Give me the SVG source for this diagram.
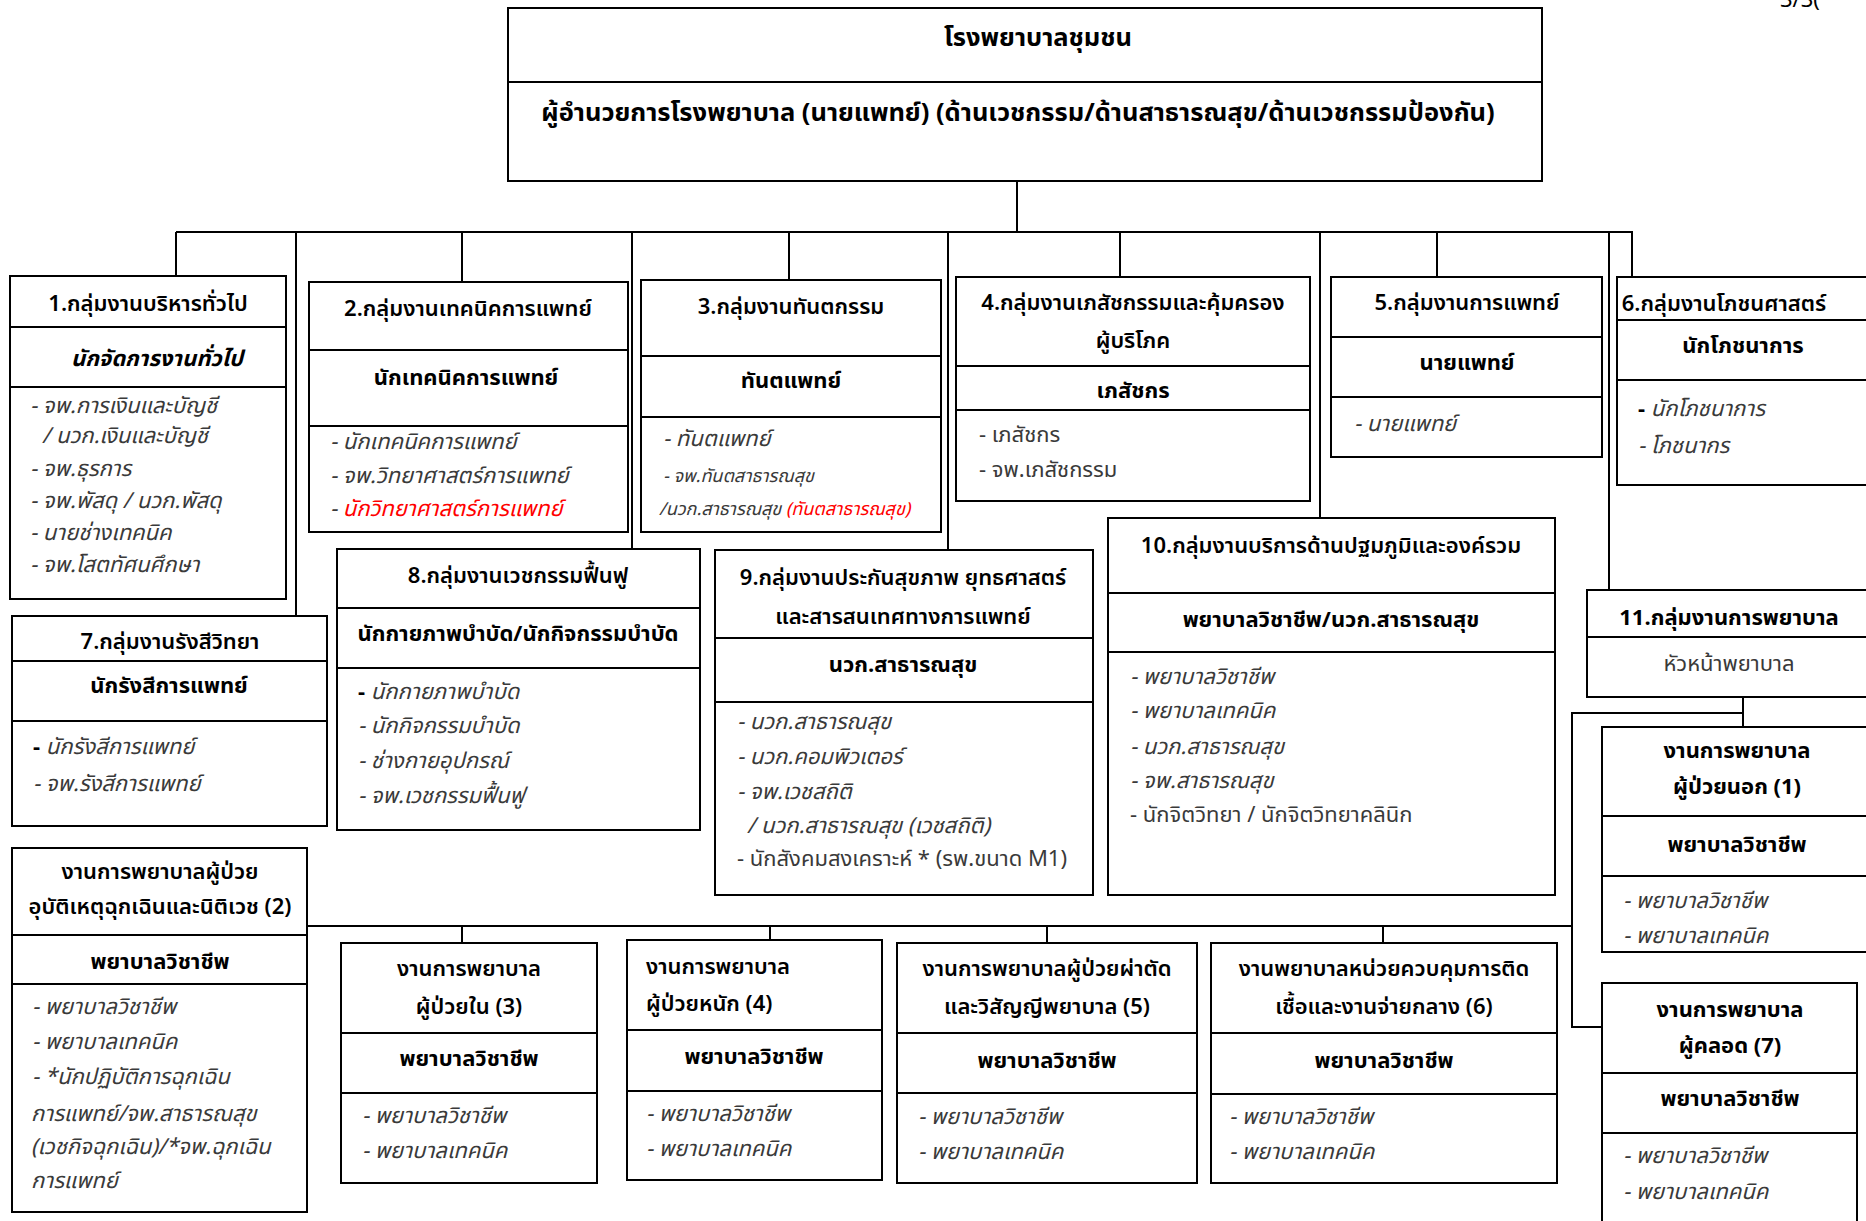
<svg xmlns="http://www.w3.org/2000/svg" width="1866" height="1221" viewBox="0 0 1866 1221">
<style>
text{font-family:"Noto Sans Thai","Noto Sans","Leelawadee UI",Tahoma,sans-serif;fill:#000}
.bx{fill:#fff;stroke:#000;stroke-width:2}
.dv{stroke:#000;stroke-width:2}
.cn line,.cn polyline{stroke:#000;stroke-width:2;fill:none}
.t{font-size:25.5px;font-weight:700;text-anchor:middle}
.h{font-size:22px;font-weight:600;text-anchor:middle}
.r{font-size:22px;font-weight:700;text-anchor:middle}
.li{font-size:22px;font-style:italic;fill:#3a3a3a}
.ln{font-size:22px;fill:#3a3a3a}
.sm{font-size:18px}
.red{fill:#f00}
.bd{fill:#000;font-weight:700;font-style:normal}
.lf{text-anchor:start}
</style>

<g class="cn" id="connectors">
<line x1="1017" y1="181" x2="1017" y2="232"/>
<line x1="176" y1="232" x2="1633" y2="232"/>
<line x1="176" y1="232" x2="176" y2="276"/>
<line x1="296" y1="232" x2="296" y2="616"/>
<line x1="462" y1="232" x2="462" y2="282"/>
<line x1="632" y1="232" x2="632" y2="549"/>
<line x1="789" y1="232" x2="789" y2="280"/>
<line x1="948" y1="232" x2="948" y2="549"/>
<line x1="1120" y1="232" x2="1120" y2="276"/>
<line x1="1320" y1="232" x2="1320" y2="518"/>
<line x1="1437" y1="232" x2="1437" y2="277"/>
<line x1="1609" y1="232" x2="1609" y2="590"/>
<line x1="1632" y1="232" x2="1632" y2="277"/>
<line x1="307" y1="926" x2="1573" y2="926"/>
<line x1="462" y1="926" x2="462" y2="943"/>
<line x1="770" y1="926" x2="770" y2="940"/>
<line x1="1047" y1="926" x2="1047" y2="943"/>
<line x1="1383" y1="926" x2="1383" y2="943"/>
<polyline points="1602,1027 1572,1027 1572,713 1743,713"/>
<line x1="1743" y1="697" x2="1743" y2="727"/>
</g>

<text x="1780" y="7" style="font-size:22px">3/3(</text>

<g id="main">
<rect class="bx" x="508" y="8" width="1034" height="173"/>
<line class="dv" x1="508" y1="82" x2="1542" y2="82"/>
<text class="t" x="1038" y="46">โรงพยาบาลชุมชน</text>
<text class="t" x="1018" y="121">ผู้อำนวยการโรงพยาบาล (นายแพทย์) (ด้านเวชกรรม/ด้านสาธารณสุข/ด้านเวชกรรมป้องกัน)</text>
</g>

<g id="g1">
<rect class="bx" x="10" y="276" width="276" height="323"/>
<line class="dv" x1="10" y1="327" x2="286" y2="327"/>
<line class="dv" x1="10" y1="387" x2="286" y2="387"/>
<text class="h" x="148" y="311">1.กลุ่มงานบริหารทั่วไป</text>
<text class="r" x="157" y="366" font-style="italic">นักจัดการงานทั่วไป</text>
<text class="li" x="30" y="413">- จพ.การเงินและบัญชี</text>
<text class="li" x="42" y="443">/ นวก.เงินและบัญชี</text>
<text class="li" x="30" y="476">- จพ.ธุรการ</text>
<text class="li" x="30" y="508">- จพ.พัสดุ / นวก.พัสดุ</text>
<text class="li" x="30" y="540">- นายช่างเทคนิค</text>
<text class="li" x="30" y="572">- จพ.โสตทัศนศึกษา</text>
</g>

<g id="g2">
<rect class="bx" x="309" y="282" width="319" height="250"/>
<line class="dv" x1="309" y1="350" x2="628" y2="350"/>
<line class="dv" x1="309" y1="426" x2="628" y2="426"/>
<text class="h" x="468" y="316">2.กลุ่มงานเทคนิคการแพทย์</text>
<text class="r" x="466" y="385">นักเทคนิคการแพทย์</text>
<text class="li" x="330" y="449">- นักเทคนิคการแพทย์</text>
<text class="li" x="330" y="483">- จพ.วิทยาศาสตร์การแพทย์</text>
<text class="li" x="330" y="516">- <tspan class="red">นักวิทยาศาสตร์การแพทย์</tspan></text>
</g>

<g id="g3">
<rect class="bx" x="641" y="280" width="300" height="252"/>
<line class="dv" x1="641" y1="356" x2="941" y2="356"/>
<line class="dv" x1="641" y1="417" x2="941" y2="417"/>
<text class="h" x="791" y="314">3.กลุ่มงานทันตกรรม</text>
<text class="r" x="791" y="388">ทันตแพทย์</text>
<text class="li" x="663" y="446">- ทันตแพทย์</text>
<text class="li sm" x="663" y="482">- จพ.ทันตสาธารณสุข</text>
<text class="li sm" x="659" y="515">/นวก.สาธารณสุข <tspan class="red">(ทันตสาธารณสุข)</tspan></text>
</g>

<g id="g4">
<rect class="bx" x="956" y="277" width="354" height="224"/>
<line class="dv" x1="956" y1="366" x2="1310" y2="366"/>
<line class="dv" x1="956" y1="410" x2="1310" y2="410"/>
<text class="h" x="1133" y="310">4.กลุ่มงานเภสัชกรรมและคุ้มครอง</text>
<text class="h" x="1133" y="348">ผู้บริโภค</text>
<text class="r" x="1133" y="398">เภสัชกร</text>
<text class="ln" x="979" y="442">- เภสัชกร</text>
<text class="ln" x="979" y="477">- จพ.เภสัชกรรม</text>
</g>

<g id="g5">
<rect class="bx" x="1331" y="277" width="271" height="180"/>
<line class="dv" x1="1331" y1="337" x2="1602" y2="337"/>
<line class="dv" x1="1331" y1="397" x2="1602" y2="397"/>
<text class="h" x="1467" y="310">5.กลุ่มงานการแพทย์</text>
<text class="r" x="1467" y="370">นายแพทย์</text>
<text class="li" x="1354" y="431">- นายแพทย์</text>
</g>

<g id="g6">
<rect class="bx" x="1617" y="277" width="270" height="208"/>
<line class="dv" x1="1617" y1="320" x2="1887" y2="320"/>
<line class="dv" x1="1617" y1="380" x2="1887" y2="380"/>
<text class="h" x="1724" y="311">6.กลุ่มงานโภชนศาสตร์</text>
<text class="r" x="1743" y="353">นักโภชนาการ</text>
<text class="li" x="1638" y="416"><tspan class="bd">-</tspan> นักโภชนาการ</text>
<text class="li" x="1638" y="453">- โภชนากร</text>
</g>

<g id="g7">
<rect class="bx" x="12" y="616" width="315" height="210"/>
<line class="dv" x1="12" y1="661" x2="327" y2="661"/>
<line class="dv" x1="12" y1="721" x2="327" y2="721"/>
<text class="h" x="170" y="649">7.กลุ่มงานรังสีวิทยา</text>
<text class="r" x="169" y="693">นักรังสีการแพทย์</text>
<text class="li" x="33" y="754"><tspan class="bd">-</tspan> นักรังสีการแพทย์</text>
<text class="li" x="33" y="791">- จพ.รังสีการแพทย์</text>
</g>

<g id="g8">
<rect class="bx" x="337" y="549" width="363" height="281"/>
<line class="dv" x1="337" y1="608" x2="700" y2="608"/>
<line class="dv" x1="337" y1="668" x2="700" y2="668"/>
<text class="h" x="518" y="583">8.กลุ่มงานเวชกรรมฟื้นฟู</text>
<text class="r" x="518" y="641">นักกายภาพบำบัด/นักกิจกรรมบำบัด</text>
<text class="li" x="358" y="699"><tspan class="bd">-</tspan> นักกายภาพบำบัด</text>
<text class="li" x="358" y="733">- นักกิจกรรมบำบัด</text>
<text class="li" x="358" y="768">- ช่างกายอุปกรณ์</text>
<text class="li" x="358" y="803">- จพ.เวชกรรมฟื้นฟู</text>
</g>

<g id="g9">
<rect class="bx" x="715" y="550" width="378" height="345"/>
<line class="dv" x1="715" y1="638" x2="1093" y2="638"/>
<line class="dv" x1="715" y1="702" x2="1093" y2="702"/>
<text class="h" x="903" y="585">9.กลุ่มงานประกันสุขภาพ ยุทธศาสตร์</text>
<text class="h" x="903" y="624">และสารสนเทศทางการแพทย์</text>
<text class="r" x="903" y="672">นวก.สาธารณสุข</text>
<text class="li" x="737" y="729">- นวก.สาธารณสุข</text>
<text class="li" x="737" y="764">- นวก.คอมพิวเตอร์</text>
<text class="li" x="737" y="799">- จพ.เวชสถิติ</text>
<text class="li" x="747" y="833">/ นวก.สาธารณสุข (เวชสถิติ)</text>
<text class="ln" x="737" y="866">- นักสังคมสงเคราะห์ * (รพ.ขนาด M1)</text>
</g>

<g id="g10">
<rect class="bx" x="1108" y="518" width="447" height="377"/>
<line class="dv" x1="1108" y1="593" x2="1555" y2="593"/>
<line class="dv" x1="1108" y1="652" x2="1555" y2="652"/>
<text class="h" x="1331" y="553">10.กลุ่มงานบริการด้านปฐมภูมิและองค์รวม</text>
<text class="r" x="1331" y="627">พยาบาลวิชาชีพ/นวก.สาธารณสุข</text>
<text class="li" x="1130" y="684">- พยาบาลวิชาชีพ</text>
<text class="li" x="1130" y="718">- พยาบาลเทคนิค</text>
<text class="li" x="1130" y="754">- นวก.สาธารณสุข</text>
<text class="li" x="1130" y="788">- จพ.สาธารณสุข</text>
<text class="ln" x="1130" y="822">- นักจิตวิทยา / นักจิตวิทยาคลินิก</text>
</g>

<g id="g11">
<rect class="bx" x="1587" y="590" width="300" height="107"/>
<line class="dv" x1="1587" y1="637" x2="1887" y2="637"/>
<text class="r" x="1729" y="625">11.กลุ่มงานการพยาบาล</text>
<text x="1729" y="671" style="font-size:22px;text-anchor:middle;fill:#3a3a3a">หัวหน้าพยาบาล</text>
</g>

<g id="opd">
<rect class="bx" x="1602" y="727" width="285" height="225"/>
<line class="dv" x1="1602" y1="816" x2="1887" y2="816"/>
<line class="dv" x1="1602" y1="876" x2="1887" y2="876"/>
<text class="r" x="1737" y="758">งานการพยาบาล</text>
<text class="r" x="1737" y="794">ผู้ป่วยนอก (1)</text>
<text class="r" x="1737" y="852">พยาบาลวิชาชีพ</text>
<text class="li" x="1623" y="908">- พยาบาลวิชาชีพ</text>
<text class="li" x="1623" y="943">- พยาบาลเทคนิค</text>
</g>

<g id="labour">
<rect class="bx" x="1602" y="983" width="255" height="250"/>
<line class="dv" x1="1602" y1="1073" x2="1857" y2="1073"/>
<line class="dv" x1="1602" y1="1133" x2="1857" y2="1133"/>
<text class="r" x="1730" y="1017">งานการพยาบาล</text>
<text class="r" x="1730" y="1053">ผู้คลอด (7)</text>
<text class="r" x="1730" y="1106">พยาบาลวิชาชีพ</text>
<text class="li" x="1623" y="1163">- พยาบาลวิชาชีพ</text>
<text class="li" x="1623" y="1199">- พยาบาลเทคนิค</text>
</g>

<g id="er">
<rect class="bx" x="12" y="848" width="295" height="364"/>
<line class="dv" x1="12" y1="935" x2="307" y2="935"/>
<line class="dv" x1="12" y1="984" x2="307" y2="984"/>
<text class="h" x="160" y="879">งานการพยาบาลผู้ป่วย</text>
<text class="h" x="160" y="914">อุบัติเหตุฉุกเฉินและนิติเวช (2)</text>
<text class="r" x="160" y="969">พยาบาลวิชาชีพ</text>
<text class="li" x="32" y="1014">- พยาบาลวิชาชีพ</text>
<text class="li" x="32" y="1049">- พยาบาลเทคนิค</text>
<text class="li" x="32" y="1084">- *นักปฏิบัติการฉุกเฉิน</text>
<text class="li" x="31" y="1121">การแพทย์/จพ.สาธารณสุข</text>
<text class="li" x="31" y="1154">(เวชกิจฉุกเฉิน)/*จพ.ฉุกเฉิน</text>
<text class="li" x="31" y="1188">การแพทย์</text>
</g>

<g id="ipd">
<rect class="bx" x="341" y="943" width="256" height="240"/>
<line class="dv" x1="341" y1="1033" x2="597" y2="1033"/>
<line class="dv" x1="341" y1="1093" x2="597" y2="1093"/>
<text class="h" x="469" y="976">งานการพยาบาล</text>
<text class="h" x="469" y="1014">ผู้ป่วยใน (3)</text>
<text class="r" x="469" y="1066">พยาบาลวิชาชีพ</text>
<text class="li" x="362" y="1123">- พยาบาลวิชาชีพ</text>
<text class="li" x="362" y="1158">- พยาบาลเทคนิค</text>
</g>

<g id="icu">
<rect class="bx" x="627" y="940" width="255" height="240"/>
<line class="dv" x1="627" y1="1030" x2="882" y2="1030"/>
<line class="dv" x1="627" y1="1091" x2="882" y2="1091"/>
<text class="h lf" x="646" y="974">งานการพยาบาล</text>
<text class="h lf" x="646" y="1011">ผู้ป่วยหนัก (4)</text>
<text class="r" x="754" y="1064">พยาบาลวิชาชีพ</text>
<text class="li" x="646" y="1121">- พยาบาลวิชาชีพ</text>
<text class="li" x="646" y="1156">- พยาบาลเทคนิค</text>
</g>

<g id="or">
<rect class="bx" x="897" y="943" width="300" height="240"/>
<line class="dv" x1="897" y1="1033" x2="1197" y2="1033"/>
<line class="dv" x1="897" y1="1093" x2="1197" y2="1093"/>
<text class="h" x="1047" y="976">งานการพยาบาลผู้ป่วยผ่าตัด</text>
<text class="h" x="1047" y="1014">และวิสัญญีพยาบาล (5)</text>
<text class="r" x="1047" y="1068">พยาบาลวิชาชีพ</text>
<text class="li" x="918" y="1124">- พยาบาลวิชาชีพ</text>
<text class="li" x="918" y="1159">- พยาบาลเทคนิค</text>
</g>

<g id="inf">
<rect class="bx" x="1211" y="943" width="346" height="240"/>
<line class="dv" x1="1211" y1="1033" x2="1557" y2="1033"/>
<line class="dv" x1="1211" y1="1094" x2="1557" y2="1094"/>
<text class="h" x="1384" y="976">งานพยาบาลหน่วยควบคุมการติด</text>
<text class="h" x="1384" y="1014">เชื้อและงานจ่ายกลาง (6)</text>
<text class="r" x="1384" y="1068">พยาบาลวิชาชีพ</text>
<text class="li" x="1229" y="1124">- พยาบาลวิชาชีพ</text>
<text class="li" x="1229" y="1159">- พยาบาลเทคนิค</text>
</g>
</svg>
